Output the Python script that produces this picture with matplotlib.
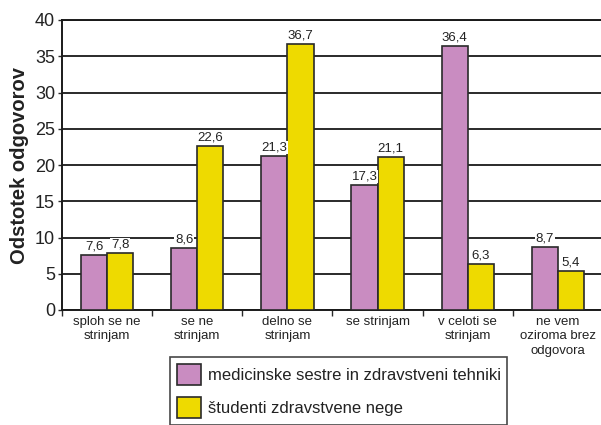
import matplotlib
matplotlib.use("Agg")
import matplotlib.pyplot as plt
import numpy as np
from matplotlib.patches import Patch

plt.rcParams['font.family'] = ['Liberation Sans', 'DejaVu Sans']

categories = ["sploh se ne\nstrinjam", "se ne\nstrinjam", "delno se\nstrinjam",
              "se strinjam", "v celoti se\nstrinjam", "ne vem\noziroma brez\nodgovora"]
nurses = [7.6, 8.6, 21.3, 17.3, 36.4, 8.7]
students = [7.8, 22.6, 36.7, 21.1, 6.3, 5.4]
series_names = ["medicinske sestre in zdravstveni tehniki", "študenti zdravstvene nege"]
yticks = [0, 5, 10, 15, 20, 25, 30, 35, 40]

pink = '#C98CC1'
yellow = '#EEDA00'

fig = plt.figure(figsize=(6.01, 4.25), dpi=100)
ax = fig.add_axes([62/601, 115/425, 541/601, 290/425])

x = np.arange(len(categories))
w = 0.29
b1 = ax.bar(x - w/2, nurses, w, color=pink, edgecolor='#2a2a2a', linewidth=1.2, zorder=3)
b2 = ax.bar(x + w/2, students, w, color=yellow, edgecolor='#2a2a2a', linewidth=1.2, zorder=3)

for bars, vals in ((b1, nurses), (b2, students)):
    for r, v in zip(bars, vals):
        ax.text(r.get_x() + r.get_width()/2, v + 0.35, f"{v:.1f}".replace('.', ','),
                ha='center', va='bottom', fontsize=9.5, color='#222222', zorder=4,
                bbox=dict(facecolor='white', edgecolor='none', pad=0.4))

ax.set_xlim(-0.5, len(categories) - 0.5)
ax.set_ylim(0, 40)
ax.set_yticks(yticks)
ax.set_yticklabels([str(t) for t in yticks], fontsize=13, color='#222222')
ax.yaxis.grid(True, color='#2a2a2a', linewidth=1.4, zorder=0)
ax.set_axisbelow(True)

ax.set_xticks(x)
ax.set_xticklabels(categories, fontsize=9.5, color='#222222', linespacing=1.3)
ax.tick_params(axis='x', which='major', length=0, pad=4)
ax.set_xticks(np.arange(-0.5, len(categories) + 0.5, 1), minor=True)
ax.tick_params(axis='x', which='minor', length=4, width=1, color='#2a2a2a', direction='out')
ax.tick_params(axis='y', length=3, width=1, color='#2a2a2a', pad=2)

for s in ['left', 'bottom', 'top']:
    ax.spines[s].set_color('#1a1a1a')
    ax.spines[s].set_linewidth(1.4)
ax.spines['right'].set_visible(False)

ax.set_ylabel("Odstotek odgovorov", fontsize=14.5, fontweight='bold', color='#222222', labelpad=4)

handles = [Patch(facecolor=pink, edgecolor='#2a2a2a', linewidth=1.2),
           Patch(facecolor=yellow, edgecolor='#2a2a2a', linewidth=1.2)]
leg = fig.legend(handles, series_names, loc='upper left',
                 bbox_to_anchor=(170/601, 1 - 357/425), fontsize=12,
                 frameon=True, fancybox=False, edgecolor='#1a1a1a',
                 handlelength=1.45, handleheight=1.55, labelspacing=0.75,
                 handletextpad=0.4, borderpad=0.4, borderaxespad=0)
leg.get_frame().set_linewidth(1.2)
for t in leg.get_texts():
    t.set_color('#222222')

fig.savefig("out.png", dpi=100)
